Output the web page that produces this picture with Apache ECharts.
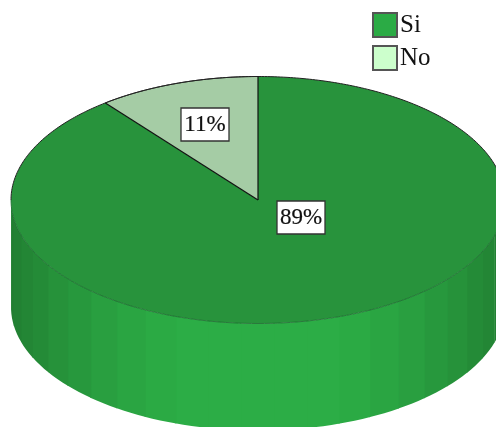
<!DOCTYPE html>
<html><head><meta charset="utf-8">
<style>html,body{margin:0;padding:0;background:#fff}#c{width:496px;height:427px}</style>
<script src="https://cdn.jsdelivr.net/npm/echarts@6/dist/echarts.min.js"></script>
</head><body><div id="c"></div>
<script>
var categories = ['Si', 'No'];
var values = [89.4, 10.6];
var tickLabels = ['89%', '11%'];

var SERIF = '"Liberation Serif","Times New Roman",serif';
var CX = 258, CY = 200, RX = 247, RY = 123.5, DEPTH = 107, BAND_COUNT = 23, BAND_START = 91.2;
var BAND = (180 - 2 * (BAND_START - 90)) / BAND_COUNT;
var total = values[0] + values[1];
var noSweep = values[1] / total * 360;
function pt(deg, k, dy) { // deg clockwise from 12 o'clock
  var a = deg * Math.PI / 180;
  return [CX + RX * k * Math.sin(a), CY - RY * k * Math.cos(a) + (dy || 0)];
}
function mix(a, b, t) {
  return 'rgb(' + [0,1,2].map(function (i) { return Math.round(a[i] + (b[i] - a[i]) * t); }).join(',') + ')';
}
function strip(from, to, t) {
  var pts = [], j;
  for (j = 0; j <= 4; j++) pts.push(pt(from + (to - from) * j / 4, 1));
  for (j = 4; j >= 0; j--) pts.push(pt(from + (to - from) * j / 4, 1, DEPTH));
  return { type: 'polygon', shape: { points: pts }, silent: true,
    style: { fill: mix([33, 125, 49], [44, 173, 70], t), stroke: null } };
}
function wall() {
  var els = [strip(90, BAND_START + 0.3, 0), strip(270 - (BAND_START - 90) - 0.3, 270, 0)];
  for (var k = 0; k < BAND_COUNT; k++) {
    var d = BAND_START + k * BAND;
    var mid = (d + BAND / 2 - 180) * Math.PI / 180;
    var t = Math.min(1, Math.pow(Math.max(0, Math.cos(mid)), 1.7) * 1.07);
    els.push(strip(d, d + BAND + (k < BAND_COUNT - 1 ? 0.3 : 0), t));
  }
  return els;
}
function sector(from, to, fill) {
  var pts = [[CX, CY]];
  for (var i = 0; i <= 160; i++) pts.push(pt(from + (to - from) * i / 160, 1));
  return { type: 'polygon', shape: { points: pts }, silent: true, style: { fill: fill, stroke: null } };
}
function arc(from, to, color, w) {
  var pts = [];
  for (var i = 0; i <= 120; i++) pts.push(pt(from + (to - from) * i / 120, 1));
  return { type: 'polyline', shape: { points: pts }, silent: true, z2: 3,
    style: { fill: null, stroke: color, lineWidth: w } };
}
function spoke(deg) {
  return { type: 'line', shape: { x1: CX, y1: CY, x2: pt(deg, 1)[0], y2: pt(deg, 1)[1] }, silent: true, z2: 3,
    style: { stroke: '#111', lineWidth: 1.2 } };
}
function tag(text, x, y) {
  return [
    { type: 'rect', shape: { x: x - 24, y: y - 16.5, width: 48, height: 33 }, silent: true, z2: 5,
      style: { fill: '#fff', stroke: '#333', lineWidth: 1.3 } },
    { type: 'text', x: x, y: y, silent: true, z2: 6,
      style: { text: text, fill: '#111', stroke: '#111', lineWidth: 0.2, font: '23px ' + SERIF, align: 'center', verticalAlign: 'middle' } }
  ];
}
var option = {
  animation: false,
  backgroundColor: '#fff',
  legend: {
    data: categories, orient: 'vertical', left: 372, top: 12,
    itemWidth: 24, itemHeight: 24, itemGap: 7,
    icon: 'rect', selectedMode: false,
    padding: 0,
    textStyle: { fontFamily: SERIF, fontSize: 25, lineHeight: 24, color: '#111', padding: [0, 0, 0, -2] }
  },
  series: [
    { type: 'custom', name: categories[0], coordinateSystem: 'none', data: [values[0]],
      itemStyle: { color: '#2bab45', borderColor: '#555', borderWidth: 1.5 },
      renderItem: function () {
        var top = sector(0, 360 - noSweep, '#28933c');
        var rim = [arc(90, 270, '#1c6a2e', 0.8), arc(270, 360, '#222', 1), arc(0, 90, '#222', 1)];
        return { type: 'group', children: wall().concat([top], rim, tag(tickLabels[0], 301, 217.5)) };
      } },
    { type: 'custom', name: categories[1], coordinateSystem: 'none', data: [values[1]],
      itemStyle: { color: '#ccffcc', borderColor: '#555', borderWidth: 1.5 },
      renderItem: function () {
        var top = sector(360 - noSweep, 360, '#a5cca5');
        return { type: 'group', children: [top, arc(360 - noSweep, 360, '#222', 1), spoke(0), spoke(360 - noSweep)].concat(tag(tickLabels[1], 205, 124.5)) };
      } }
  ]
};
var chart = echarts.init(document.getElementById('c'), null, { renderer: 'canvas' });
chart.setOption(option);
</script></body></html>
